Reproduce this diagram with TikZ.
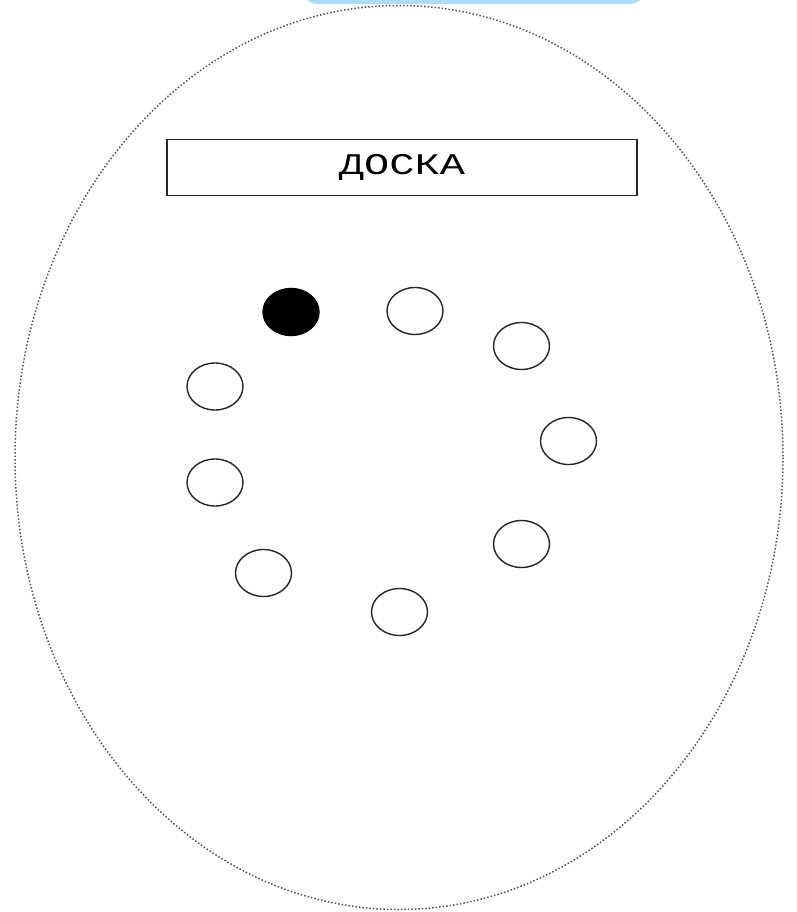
\documentclass[tikz,border=0pt]{standalone}
\usepackage{fontspec}
\setmonofont{Liberation Mono}
\usetikzlibrary{shapes.geometric}
\definecolor{topblue}{HTML}{A9DDF9}
\definecolor{dotgray}{HTML}{555555}
\tikzset{
  seat/.style={ellipse, draw=black!85, line width=1.4pt, minimum width=56pt, minimum height=47pt, inner sep=0pt},
  taken/.style={seat, fill=black, draw=black},
  board/.style={draw=black!85, line width=1.3pt, minimum width=470pt, minimum height=56pt, inner sep=0pt, font=\ttfamily\fontsize{30}{32}\selectfont}
}
\begin{document}
\begin{tikzpicture}[x=1pt,y=-1pt]
\useasboundingbox (0,0) rectangle (796,912);
\fill[white] (0,0) rectangle (796,912);
\begin{scope}
\clip (0,0) rectangle (796,912);
\fill[topblue, rounded corners=14pt] (303,-40) rectangle (644,4);
\end{scope}
\draw[dotgray, dotted, line width=1.5pt] (399,457.5) ellipse [x radius=384, y radius=452];
\node[board] (board) at (402,167.5) {\scalebox{1.4}[1]{ДОСКА}};
\node[taken] (s1) at (291,312) {};
\node[seat] (s2) at (415,311) {};
\node[seat] (s3) at (521.5,346) {};
\node[seat] (s4) at (568.5,441) {};
\node[seat] (s5) at (521.5,544) {};
\node[seat] (s6) at (399.5,612) {};
\node[seat] (s7) at (263.5,573) {};
\node[seat] (s8) at (215,482.5) {};
\node[seat] (s9) at (215,386.5) {};
\end{tikzpicture}
\end{document}
